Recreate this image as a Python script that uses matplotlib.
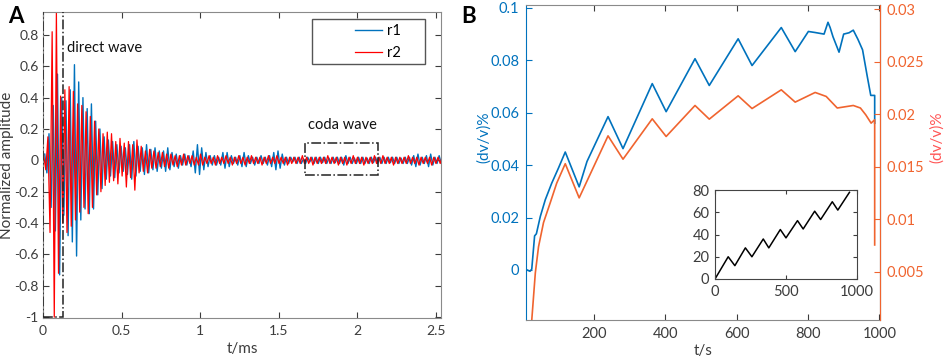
import numpy as np
import matplotlib
matplotlib.use('Agg')
import matplotlib.pyplot as plt
from matplotlib.patches import Rectangle

plt.rcParams['font.family'] = ['Lato', 'DejaVu Sans']

# ---------------- panel A : waveforms (peak values) ----------------
half_period = 0.0135   # ms between successive peaks
r2_start = 0.004
r1_start = 0.011

r2_peaks = [
  0.03, -0.06, 0.15, -0.46, 0.82, -1.0, 0.94, -0.72, 0.41, -0.40,
  0.45, -0.46, 0.47, -0.42, 0.44, -0.38, 0.36, -0.33, 0.35, -0.30,
  0.31, -0.34, 0.28, -0.30, 0.25, -0.22, 0.20, -0.20, 0.17, -0.16,
  0.18, -0.14, 0.17, -0.13, 0.12, -0.15, 0.14, -0.10, 0.11, -0.17,
  0.12, -0.11, 0.10, -0.19, 0.13, -0.08, 0.09, -0.07, 0.06, -0.08,
  0.07, -0.05, 0.06, -0.05, 0.05, -0.04, 0.05, -0.04, 0.04, -0.05,
  0.04, -0.03, 0.03, -0.04, 0.03, -0.03, 0.04, -0.03, 0.03, -0.02,
  0.03, -0.03, 0.02, -0.03, 0.04, -0.03, 0.02, -0.02, 0.03, -0.02,
  0.02, -0.03, 0.03, -0.02, 0.02, -0.02, 0.03, -0.02, 0.02, -0.03,
  0.02, -0.02, 0.03, -0.02, 0.02, -0.03, 0.02, -0.02, 0.03, -0.02,
  0.02, -0.02, 0.02, -0.03, 0.02, -0.02, 0.03, -0.02, 0.02, -0.02,
  0.03, -0.02, 0.02, -0.02, 0.02, -0.03, 0.02, -0.02, 0.02, -0.02,
  0.02, -0.02, 0.03, -0.02, 0.02, -0.02, 0.02, -0.03, 0.02, -0.02,
  0.02, -0.02, 0.02, -0.02, 0.03, -0.02, 0.02, -0.02, 0.02, -0.03,
  0.02, -0.02, 0.02, -0.03, 0.02, -0.02, 0.03, -0.02, 0.02, -0.02,
  0.02, -0.03, 0.02, -0.02, 0.02, -0.02, 0.03, -0.02, 0.02, -0.02,
  0.03, -0.02, 0.02, -0.02, 0.02, -0.03, 0.02, -0.02, 0.02, -0.02,
  0.02, -0.02, 0.03, -0.02, 0.02, -0.02, 0.02, -0.03, 0.02, -0.02,
  0.02, -0.02, 0.02, -0.03, 0.02, -0.02, 0.02, -0.02, 0.03, -0.02,
]

r1_peaks = [
  0.04, -0.08, 0.17, -0.30, 0.35, -0.45, 0.55, -0.73, 0.40, -0.35,
  0.38, -0.48, 0.45, -0.52, 0.61, -0.61, 0.50, -0.38, 0.40, -0.31,
  0.33, -0.34, 0.36, -0.31, 0.25, -0.22, 0.20, -0.18, 0.15, -0.12,
  0.13, -0.10, 0.12, -0.11, 0.10, -0.08, 0.09, -0.07, 0.08, -0.09,
  0.10, -0.12, 0.12, -0.10, 0.09, -0.07, 0.08, -0.09, 0.10, -0.08,
  0.07, -0.06, 0.08, -0.07, 0.06, -0.05, 0.06, -0.07, 0.08, -0.06,
  0.05, -0.04, 0.04, -0.05, 0.03, -0.03, 0.04, -0.03, 0.03, -0.04,
  0.06, -0.08, 0.10, -0.09, 0.08, -0.06, 0.05, -0.04, 0.03, -0.03,
  0.03, -0.03, 0.02, -0.03, 0.05, -0.05, 0.05, -0.04, 0.03, -0.02,
  0.02, -0.03, 0.03, -0.04, 0.05, -0.04, 0.03, -0.02, 0.02, -0.03,
  0.02, -0.02, 0.03, -0.02, 0.02, -0.03, 0.03, -0.04, 0.05, -0.06,
  0.06, -0.05, 0.04, -0.03, 0.02, -0.02, 0.02, -0.01, 0.02, -0.02,
  0.02, -0.02, 0.01, -0.02, 0.02, -0.01, 0.02, -0.02, 0.02, -0.02,
  0.02, -0.015, 0.02, -0.02, 0.015, -0.02, 0.02, -0.015, 0.02, -0.02,
  0.02, -0.03, 0.03, -0.02, 0.02, -0.02, 0.015, -0.02, 0.02, -0.02,
  0.02, -0.02, 0.015, -0.02, 0.02, -0.015, 0.02, -0.02, 0.02, -0.02,
  0.02, -0.02, 0.02, -0.015, 0.02, -0.02, 0.02, -0.02, 0.015, -0.02,
  0.02, -0.02, 0.02, -0.03, 0.03, -0.04, 0.04, -0.03, 0.02, -0.02,
  0.03, -0.04, 0.04, -0.03, 0.02, -0.02, 0.03, -0.02, 0.02, -0.02,
]

a_xticks = [0, 0.5, 1, 1.5, 2, 2.5]
a_xtick_labels = ['0', '0.5', '1', '1.5', '2', '2.5']
a_yticks = [-1, -0.8, -0.6, -0.4, -0.2, 0, 0.2, 0.4, 0.6, 0.8]
a_ytick_labels = ['-1', '-0.8', '-0.6', '-0.4', '-0.2', '0', '0.2', '0.4', '0.6', '0.8']

direct_box = (0.0, -1.0, 0.127, 1.95)      # t0, y0, width, height
coda_box = (1.67, -0.095, 0.46, 0.205)

# ---------------- panel B : dv/v curves ----------------
dvv1_t = [12, 20, 25, 33, 38, 49, 63, 81, 100, 119, 158, 180, 239, 281, 363, 402, 483,
          523, 604, 643, 725, 764, 801, 820, 845, 856, 862, 870, 887, 900, 915, 927,
          940, 953, 966, 976, 987, 987]
dvv1_v = [0.0, -0.0005, 0.0003, 0.013, 0.0138, 0.0204, 0.0268, 0.0331, 0.0389, 0.045,
          0.0317, 0.0414, 0.0585, 0.0463, 0.0711, 0.0604, 0.0806, 0.0704, 0.0882, 0.078,
          0.0925, 0.0833, 0.091, 0.0906, 0.090, 0.0945, 0.0925, 0.089, 0.0831, 0.090,
          0.0905, 0.0915, 0.088, 0.084, 0.074, 0.0666, 0.0666, 0.056]

dvv2_t = [22, 25, 35, 44, 58, 77, 95, 119, 158, 239, 281, 363, 402, 483, 523, 604, 643,
          725, 764, 820, 851, 882, 927, 947, 962, 977, 987, 987]
dvv2_v = [0.0, 0.0004, 0.0049, 0.0074, 0.0097, 0.0116, 0.01345, 0.0153, 0.01205, 0.01795,
          0.01573, 0.01957, 0.01789, 0.02084, 0.01954, 0.02176, 0.02055, 0.02233, 0.02116,
          0.02208, 0.0217, 0.0206, 0.02084, 0.0206, 0.01995, 0.01916, 0.01948, 0.00757]

load_t = [0, 93, 140, 214, 260, 340, 379, 460, 500, 581, 621, 702, 744, 826, 865, 947]
load_v = [0, 20, 12, 28, 20, 36, 28, 44.5, 37, 52.5, 45, 61, 53.5, 69.5, 62, 78]

blue = '#0072BD'
red = '#FF0000'
orange = '#F0642F'
grey = '#8a8a8a'
txt = '#3c3c3c'

fig = plt.figure(figsize=(9.48, 3.6), dpi=100)

# ---- A ----
ax = fig.add_axes([0.0454, 0.1167, 0.42, 0.85])
r1_t = r1_start + half_period * np.arange(len(r1_peaks))
r2_t = r2_start + half_period * np.arange(len(r2_peaks))
ax.plot(r1_t, r1_peaks, color=blue, lw=1.0, label='r1')
ax.plot(r2_t, r2_peaks, color=red, lw=0.9, label='r2')
ax.set_xlim(0, 2.535)
ax.set_ylim(-1.005, 0.946)
ax.set_xticks(a_xticks)
ax.set_xticklabels(a_xtick_labels)
ax.set_yticks(a_yticks)
ax.set_yticklabels(a_ytick_labels)
ax.tick_params(direction='in', length=4, top=True, right=True, labelsize=10,
               colors=txt, pad=5)
ax.tick_params(axis='y', pad=3)
for s in ax.spines.values():
  s.set_color(grey)
ax.set_xlabel('t/ms', fontsize=11, color=txt, labelpad=4)
ax.set_ylabel('Normalized amplitude', fontsize=11, color=txt)
ax.yaxis.set_label_coords(-0.072, 0.5)

ax.add_patch(Rectangle(direct_box[:2], direct_box[2], direct_box[3], fill=False,
                       ls='-.', lw=1.1, ec='#222222', zorder=5))
ax.add_patch(Rectangle(coda_box[:2], coda_box[2], coda_box[3], fill=False,
                       ls='-.', lw=1.1, ec='#222222', zorder=5))
ax.text(0.155, 0.715, 'direct wave', fontsize=10.5, color='#111111', va='center')
ax.text(1.69, 0.225, 'coda wave', fontsize=10.5, color='#111111', va='center')

# legend with a MATLAB style box
ax.add_patch(Rectangle((0.676, 0.83), 0.284, 0.147, transform=ax.transAxes, fill=False,
                       ec='#555555', lw=1.0, zorder=6))
ax.legend(loc='center', bbox_to_anchor=(0.84, 0.903), frameon=False, fontsize=10.5,
          handlelength=1.9, handletextpad=0.3, labelspacing=0.55)

fig.text(0.009, 0.955, 'A', fontsize=16, fontweight='bold', va='center')
fig.text(0.487, 0.955, 'B', fontsize=16, fontweight='bold', va='center')

# ---- B ----
bx = fig.add_axes([0.5549, 0.1111, 0.3734, 0.875])
bx.plot(dvv1_t, dvv1_v, color=blue, lw=1.2)
bx.set_xlim(9, 1002)
bx.set_ylim(-0.0191, 0.1011)
bx.set_xticks([200, 400, 600, 800, 1000])
bx.set_yticks([0, 0.02, 0.04, 0.06, 0.08, 0.1])
bx.set_yticklabels(['0', '0.02', '0.04', '0.06', '0.08', '0.1'])
bx.tick_params(axis='x', direction='in', length=4, top=True, labelsize=10.5, colors=txt, pad=5)
bx.tick_params(axis='y', direction='in', length=4, labelsize=10.5, colors=blue, pad=5)
bx.spines['left'].set_color(blue)
bx.spines['top'].set_color(grey)
bx.spines['bottom'].set_color(grey)
bx.set_xlabel('t/s', fontsize=11, color=txt, labelpad=2)
bx.set_ylabel('(dv/v)%', fontsize=11, color=blue)
bx.yaxis.set_label_coords(-0.1, 0.58)

bx2 = bx.twinx()
bx2.plot(dvv2_t, dvv2_v, color=orange, lw=1.2)
bx2.set_ylim(0.00043, 0.0304)
bx2.set_yticks([0.005, 0.01, 0.015, 0.02, 0.025, 0.03])
bx2.set_yticklabels(['0.005', '0.01', '0.015', '0.02', '0.025', '0.03'])
bx2.tick_params(axis='y', direction='in', length=4, labelsize=10.5, colors=orange, pad=5)
bx2.spines['right'].set_color(orange)
bx2.spines['left'].set_visible(False)
bx2.spines['top'].set_visible(False)
bx2.spines['bottom'].set_visible(False)
bx2.set_ylabel('(dv/v)%', fontsize=11, color='#FF5555', rotation=90)
bx2.yaxis.set_label_coords(1.14, 0.58)

# inset: load history
ix = fig.add_axes([0.7542, 0.225, 0.1498, 0.247])
ix.plot(load_t, load_v, color='black', lw=1.1)
ix.set_xlim(0, 1000)
ix.set_ylim(0, 80)
ix.set_xticks([0, 500, 1000])
ix.set_yticks([0, 20, 40, 60, 80])
ix.tick_params(direction='in', length=3, top=True, right=True, labelsize=10.5,
               colors=txt, pad=4)
for s in ix.spines.values():
  s.set_color('#444444')

fig.savefig('out.png', dpi=100)
